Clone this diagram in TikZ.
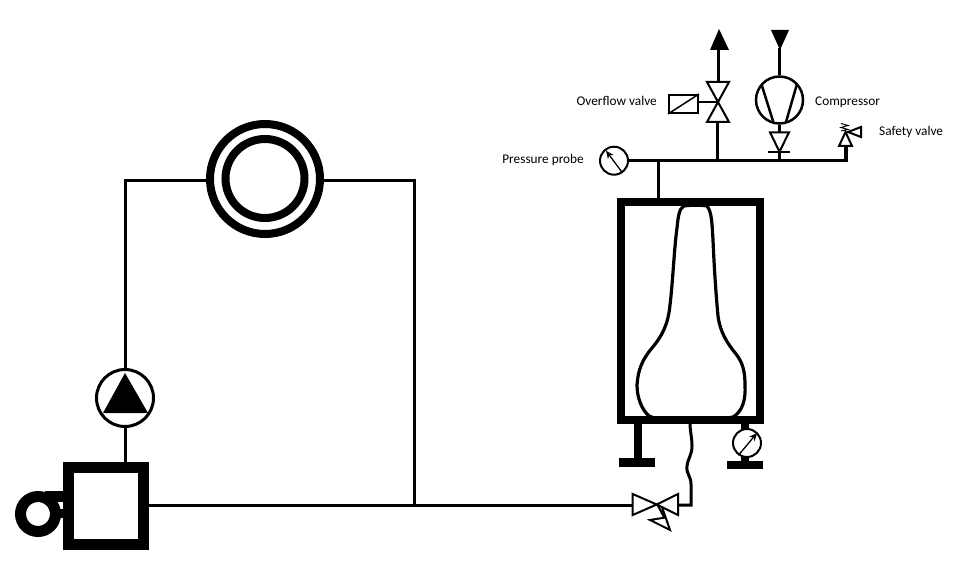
\documentclass[tikz,border=0pt]{standalone}
\usepackage{fontspec}
\setmainfont{Carlito}
\usetikzlibrary{arrows.meta}
\tikzset{
    pipe/.style={line width=3pt},
    valveline/.style={line width=2pt, fill=white, line join=miter},
    gauge/.style={circle, draw, line width=2pt, fill=white, minimum size=28pt, inner sep=0pt},
    needle/.style={-{Stealth[length=8pt,width=7pt]}, line width=1.3pt},
    heavy/.style={line width=8pt},
    tag/.style={font=\fontsize{13.3pt}{15pt}\selectfont, inner sep=0pt},
}

\begin{document}
\begin{tikzpicture}[x=1pt, y=-1pt]
    \useasboundingbox (0,0) rectangle (974,572);
    % loop on the left
    \node[circle, draw, line width=8pt, minimum size=110pt, inner sep=0pt] (ringouter) at (265,179) {};
    \node[circle, draw, line width=8pt, minimum size=79pt, inner sep=0pt] (ringinner) at (265,178.5) {};
    \node[circle, draw, line width=3pt, minimum size=57pt, inner sep=0pt] (pump) at (125,398) {};
    \fill (125,373) -- (148,413) -- (103,413) -- cycle;
    \node[draw, line width=11pt, minimum width=75pt, minimum height=77pt, inner sep=0pt] (tank) at (106,506) {};
    \coordinate (cornerleft) at (125,181);
    \coordinate (cornerright) at (414,181);
    \coordinate (tee) at (414,505);
    \draw[pipe] (pump.north) -- (cornerleft) -- (ringouter.west |- cornerleft);
    \draw[pipe] (pump.south) -- (125,462);
    \draw[pipe] (ringouter.east |- cornerright) -- (cornerright) -- (tee);
    % blower
    \node[circle, draw, line width=11pt, minimum size=35pt, inner sep=0pt] (blower) at (38,514) {};
    \fill (45,491) rectangle (64,502);
    \fill (55,509) rectangle (64,518);
    % feed line and valve
    \coordinate (feedin) at (632.7,505);
    \coordinate (feedout) at (678,505);
    \coordinate (feedup) at (691,505);
    \coordinate (bagfoot) at (690,423);
    \draw[pipe] (149,505) -- (feedin);
    \draw[pipe] (feedout) -- (feedup) -- (691,484) .. controls (691,476) and (686,474) .. (687,466) .. controls (688,458) and (692,455) .. (692,446) .. controls (692,437) and (690,432) .. (bagfoot);
    \draw[valveline] (632.7,494) -- (656.7,504.5) -- (632.7,515) -- cycle;
    \draw[valveline] (678,494) -- (656.7,504.5) -- (678,515) -- cycle;
    \draw[line width=2pt, line join=miter] (657.3,504.3) -- (664.3,517.7) -- (650,520) -- (670,530) -- (662.3,508);
    % vessel
    \node[draw, heavy, minimum width=139pt, minimum height=218.5pt, inner sep=0pt] (vessel) at (690.5,311.2) {};
    \draw[line width=3.2pt] (684,206) .. controls (690,205) and (702,205) .. (707,206)
        .. controls (712,212) and (712,225) .. (713,240)
        .. controls (714,265) and (716,295) .. (718,316)
        .. controls (720,332) and (727,343) .. (736,354)
        .. controls (743,363) and (745,372) .. (745,385)
        .. controls (746,400) and (742,412) .. (733,417)
        .. controls (720,420) and (700,419) .. (680,419.5)
        .. controls (670,420) and (658,420) .. (649,416)
        .. controls (642,410) and (637,398) .. (637,385)
        .. controls (638,370) and (642,360) .. (652,348)
        .. controls (662,336) and (668,325) .. (670,305)
        .. controls (673,280) and (674,250) .. (677,228)
        .. controls (678,218) and (679,208) .. (684,206) -- cycle;
    % legs
    \draw[heavy] (638,424) -- (638,460);
    \fill (619,458) rectangle (655,467);
    \node[gauge] (gaugelow) at (747,443) {};
    \draw[heavy] (745,424) -- (745,429);
    \draw[heavy] (745,457) -- (745,465);
    \fill (727,461) rectangle (763,469);
    \draw[needle] (gaugelow.-125) -- (757,433);
    % gas line
    \node[gauge] (probe) at (614,160.7) {};
    \coordinate (gasend) at (846,160.7);
    \coordinate (gastee) at (658,160.7);
    \coordinate (overtee) at (717,160.7);
    \coordinate (comptee) at (779.5,160.7);
    \draw[needle] (probe.-55) -- (606,150.7);
    \draw[pipe, line width=3.5pt] (probe.east) -- (gasend) -- (846,147);
    \draw[pipe] (gastee) -- (gastee |- vessel.north);
    % overflow valve
    \draw[pipe] (overtee) -- (717,122);
    \draw[valveline] (707,82) -- (729,82) -- (718,102) -- cycle;
    \draw[valveline] (707,122) -- (729,122) -- (718,102) -- cycle;
    \draw[pipe] (718,82) -- (718,48);
    \fill (710,50) -- (729,50) -- (719,29) -- cycle;
    \node[draw, line width=2pt, minimum width=29pt, minimum height=18pt, inner sep=0pt] (solenoid) at (683.5,104) {};
    \draw[line width=1.5pt] (solenoid.south west) -- (solenoid.north east);
    \draw[line width=2pt] (solenoid.east |- 0,102.3) -- (718,102.3);
    % compressor
    \node[circle, draw, line width=2.5pt, minimum size=47pt, inner sep=0pt] (compressor) at (779.5,100) {};
    \draw[line width=2.5pt] (761.7,85) -- (773.3,122) (796.7,85) -- (786,122);
    \draw[pipe] (compressor.north) -- (779.5,48);
    \fill (771,30) -- (789,30) -- (780,50) -- cycle;
    \draw[pipe] (compressor.south) -- (779.5,132);
    \draw[valveline] (770,132.3) -- (789,132.3) -- (779.5,151.7) -- cycle;
    \draw[line width=2pt] (768.3,151.7) -- (790,151.7);
    \draw[pipe] (779.5,151.7) -- (comptee);
    % safety valve
    \draw[valveline] (839,146) -- (852,146) -- (845.5,132) -- cycle;
    \draw[valveline] (848,132) -- (861,127) -- (861,137) -- cycle;
    \draw[line width=1pt] (841,123.5) -- (848,125.5) -- (841,127.5) -- (848,129.5) -- (841,131);
    % labels
    \node[tag, anchor=east] (overflowtag) at (657,101) {Overflow valve};
    \node[tag, anchor=west] (compressortag) at (815,102) {Compressor};
    \node[tag, anchor=west] (safetytag) at (879,132) {Safety valve};
    \node[tag, anchor=east] (probetag) at (584,160) {Pressure probe};
\end{tikzpicture}
\end{document}
